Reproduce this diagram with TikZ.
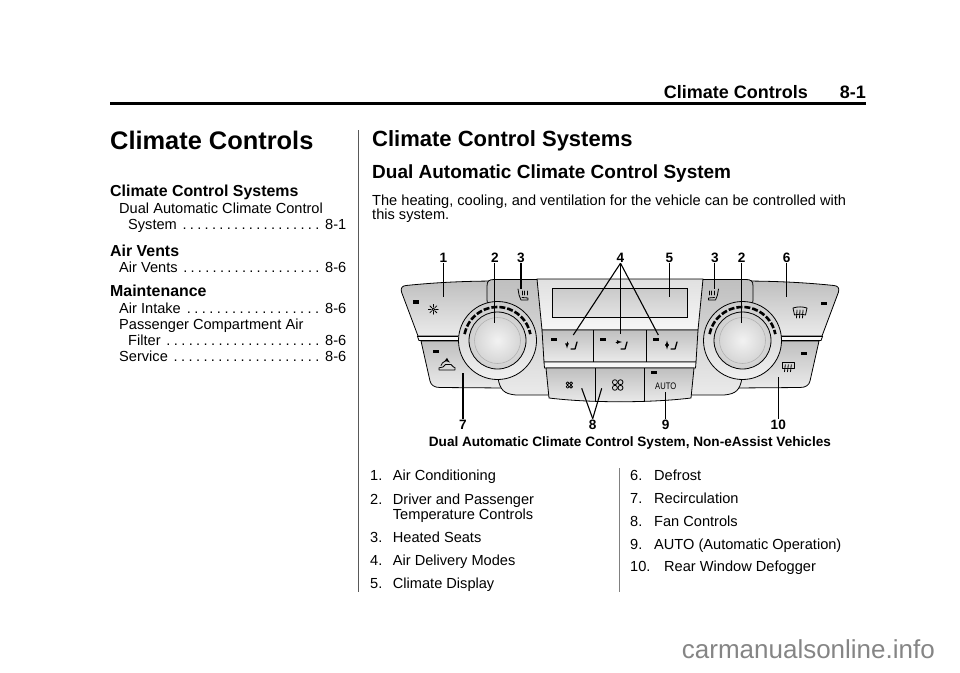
\documentclass[tikz,border=0pt]{standalone}
\usepackage{fontspec}
\setmainfont{Liberation Sans}
\newcommand\fsz[1]{\fontsize{#1}{#1}\selectfont}
\newcommand\tocdots{\xleaders\hbox to 0.5em{\hss.\hss}\hfill}
\begin{document}
\begin{tikzpicture}[>=latex,x=1pt,y=-1pt,
    txt/.style={anchor=base west,inner sep=0pt,font=\fsz{14.6}},
    sec/.style={anchor=base west,inner sep=0pt,font=\fsz{15.9}\bfseries},
    num/.style={anchor=base,inner sep=1pt,font=\fsz{13.6}\bfseries},
    lead/.style={line width=1.1pt},
    pc/.style={draw=black,line width=0.8pt,top color=gray!50,bottom color=gray!16},
    knb/.style={draw=black,line width=0.8pt,top color=gray!40,bottom color=gray!12},
    face/.style={draw=black,line width=0.8pt,inner color=gray!10,outer color=gray!38},
    tks/.style={line width=2.6pt,dash pattern=on 6pt off 2pt},
    led/.style={fill=black},
    icon/.style={line width=0.8pt,line cap=round,line join=round},
    mico/.style={line width=1.3pt,line cap=round,line join=round}]
    \useasboundingbox (0,0) rectangle (960,672);
    % header
    \node[anchor=base east,inner sep=0pt,font=\fsz{18}\bfseries] (hdr) at (808,98) {Climate Controls};
    \node[anchor=base east,inner sep=0pt,font=\fsz{18}\bfseries] (pg) at (866,98) {8-1};
    \draw[line width=3pt] (110,103) -- (866,103);
    \draw[black!65,line width=1pt] (358,130) -- (358,592);
    % left column
    \node[anchor=base west,inner sep=0pt,font=\fsz{25.4}\bfseries] (ch) at (110,149.3) {Climate Controls};
    \node[sec] (s1) at (110,196.7) {Climate Control Systems};
    \node[txt] (s1a) at (119,213.3) {Dual Automatic Climate Control};
    \node[txt] (s1b) at (128,229.3) {\hbox to 218pt{System \tocdots\ 8-1}};
    \node[sec] (s2) at (110,256.7) {Air Vents};
    \node[txt] (s2a) at (119,272.7) {\hbox to 227pt{Air Vents \tocdots\ 8-6}};
    \node[sec] (s3) at (110,296.7) {Maintenance};
    \node[txt] (s3a) at (119,313.3) {\hbox to 227pt{Air Intake \tocdots\ 8-6}};
    \node[txt] (s3b) at (119,329.3) {Passenger Compartment Air};
    \node[txt] (s3c) at (128,345.7) {\hbox to 218pt{Filter \tocdots\ 8-6}};
    \node[txt] (s3d) at (119,361.7) {\hbox to 227pt{Service \tocdots\ 8-6}};
    % right column
    \node[anchor=base west,inner sep=0pt,font=\fsz{22}\bfseries] (ccs) at (372,146.7) {Climate Control Systems};
    \node[anchor=base west,inner sep=0pt,font=\fsz{19}\bfseries] (dac) at (372,178.3) {Dual Automatic Climate Control System};
    \node[txt] (b1) at (372,205) {The heating, cooling, and ventilation for the vehicle can be controlled with};
    \node[txt] (b2) at (372,219.3) {this system.};
    % panel, left pieces and their mirror
    \path[pc] (418,336) -- (401.5,292) .. controls (400.5,288) and (402,286) .. (406,285.5) .. controls (440,282) and (470,281) .. (500,281) -- (500,336) -- cycle;
    \path[pc] (421,341) -- (430,381) .. controls (431,385) and (434,387.5) .. (440,387.5) -- (505,388) -- (505,341) -- cycle;
    \path[draw,line width=0.8pt,fill=gray!5] (417.5,336.5) -- (470,336.5) -- (470,340.5) -- (419,340.5) -- cycle;
    \begin{scope}[shift={(1240,0)},xscale=-1]
        \path[pc] (418,336) -- (401.5,292) .. controls (400.5,288) and (402,286) .. (406,285.5) .. controls (440,282) and (470,281) .. (500,281) -- (500,336) -- cycle;
        \path[pc] (421,341) -- (430,381) .. controls (431,385) and (434,387.5) .. (440,387.5) -- (505,388) -- (505,341) -- cycle;
        \path[draw,line width=0.8pt,fill=gray!5] (417.5,336.5) -- (470,336.5) -- (470,340.5) -- (419,340.5) -- cycle;
    \end{scope}
    % body, display and buttons
    \path[pc] (498,378) .. controls (500,390) and (504,394) .. (516,395) -- (724,395) .. controls (736,394) and (740,390) .. (742,378) -- (753,300) -- (753,286) .. controls (753,281) and (751,279.5) .. (746,279.5) -- (494,279.5) .. controls (489,279.5) and (487,281) .. (487,286) -- (487,300) -- cycle;
    \path[draw,line width=0.8pt,top color=gray!24,bottom color=gray!7] (537,279) -- (703,279) -- (698,330) -- (542,330) -- cycle;
    \path[draw,line width=0.8pt,top color=gray!42,bottom color=gray!22] (552.5,288) rectangle (687.5,317);
    \path[pc] (542,330) -- (698,330) -- (696,362) -- (544,362) -- cycle;
    \draw[line width=0.8pt] (593.5,330) -- (593.5,362) (646.5,330) -- (646.5,362);
    \path[draw,line width=0.8pt,fill=gray!6] (544,362) -- (696,362) -- (695.5,368) -- (544.5,368) -- cycle;
    \path[pc] (546,368) -- (694,368) -- (691,398) .. controls (650,403) and (590,403) .. (549,398) -- cycle;
    \draw[line width=0.8pt] (595.5,368) -- (595.5,401.5) (644.5,368) -- (644.5,401.5);
    % knobs
    \path[knb] (497.5,340.5) circle[radius=39];
    \draw[tks] (497.5,340.5) ++(-169:33.5) arc[start angle=-169,end angle=-11,radius=33.5];
    \path[face] (497.5,340.5) circle[radius=28.5];
    \draw[gray!60,line width=0.6pt] (497.5,340.5) circle[radius=23];
    \path[knb] (742.5,340.5) circle[radius=39];
    \draw[tks] (742.5,340.5) ++(-169:33.5) arc[start angle=-169,end angle=-11,radius=33.5];
    \path[face] (742.5,340.5) circle[radius=28.5];
    \draw[gray!60,line width=0.6pt] (742.5,340.5) circle[radius=23];
    % indicator lamps
    \path[led] (413,300) rectangle (419,303.5);
    \path[led] (432.5,349.5) rectangle (438.5,353);
    \path[led] (820.5,301.5) rectangle (826.5,305);
    \path[led] (800.5,351.5) rectangle (806.5,355);
    \path[led] (550.5,337.5) rectangle (556.5,341);
    \path[led] (600,337.5) rectangle (606,341);
    \path[led] (653,337.5) rectangle (659,341);
    \path[led] (651,370.5) rectangle (657,374);
    % icons
    \draw[icon] (433.3,309.3) circle[radius=1.4];
    \foreach \a in {0,45,...,315}
        \draw[icon] (433.3,309.3) ++(\a:2.3) -- ++(\a:2.6);
    \begin{scope}[shift={(447,367)}]
        \draw[icon] (-8,3) -- (-8,0.8) -- (-4,0) -- (-1.5,-2.5) -- (4,-2.5) -- (6.5,0) -- (8,0.6) -- (8,3) -- cycle;
        \draw[icon,->] (-6,-1.5) .. controls (-5,-6) and (1,-6) .. (3,-4.5);
    \end{scope}
    \begin{scope}[shift={(523,295)}]
        \draw[icon] (-5,-6) .. controls (-4,-1) and (-4,2) .. (-2,5) -- (5,5) -- (5,3) -- (-1,2.5);
        \draw[icon] (-0.5,-4) -- (-0.5,0) (1.8,-4) -- (1.8,0) (4.1,-4) -- (4.1,0);
    \end{scope}
    \begin{scope}[shift={(713.5,295)},xscale=-1]
        \draw[icon] (-5,-6) .. controls (-4,-1) and (-4,2) .. (-2,5) -- (5,5) -- (5,3) -- (-1,2.5);
        \draw[icon] (-0.5,-4) -- (-0.5,0) (1.8,-4) -- (1.8,0) (4.1,-4) -- (4.1,0);
    \end{scope}
    \begin{scope}[shift={(800,312)}]
        \draw[icon] (-7,-4) .. controls (-2,-5.5) and (2,-5.5) .. (7,-4) -- (5.5,3) .. controls (2,2) and (-2,2) .. (-5.5,3) -- cycle;
        \draw[icon] (-3,-2) -- (-3.5,6) (0,-2) -- (-0.5,6) (3,-2) -- (2.5,6);
    \end{scope}
    \begin{scope}[shift={(788.3,366.7)}]
        \draw[icon] (-6,-4) rectangle (6,2);
        \draw[icon] (-3,-2) -- (-3.8,5) (0,-2) -- (-0.8,5) (3,-2) -- (2.2,5);
    \end{scope}
    \begin{scope}[shift={(571,345)}]
        \draw[mico] (0,4) -- (4,4) -- (6,-3);
        \draw[icon,->] (-4,-3) -- (-4,3.5);
    \end{scope}
    \begin{scope}[shift={(621,345)}]
        \draw[mico] (0,4) -- (4,4) -- (6,-3);
        \draw[icon,->] (-5,-3) -- (1,-3);
    \end{scope}
    \begin{scope}[shift={(671,345)}]
        \draw[mico] (0,4) -- (4,4) -- (6,-3);
        \draw[icon,->] (-4,-0.5) -- (-4,-4.5);
        \draw[icon,->] (-4,0.5) -- (-4,4.5);
    \end{scope}
    \foreach \u/\v in {1/1,1/-1,-1/1,-1/-1}
        \draw[icon] ({569.3+1.7*\u},{385+1.7*\v}) circle[radius=1.5];
    \foreach \u/\v in {1/1,1/-1,-1/1,-1/-1}
        \draw[icon] ({617.7+2.8*\u},{385+2.8*\v}) circle[radius=2.5];
    \node[inner sep=0pt,font=\fsz{9.5}] (auto) at (665.7,386) {\scalebox{0.8}[1]{AUTO}};
    % callouts
    \node[num] (l1) at (443.3,262) {1};
    \node[num] (l2) at (494.8,262) {2};
    \node[num] (l3) at (521,262) {3};
    \node[num] (l4) at (620.5,262) {4};
    \node[num] (l5) at (669.3,262) {5};
    \node[num] (l3r) at (714.8,262) {3};
    \node[num] (l2r) at (741.7,262) {2};
    \node[num] (l6) at (786.7,262) {6};
    \node[num] (l7) at (463,429.3) {7};
    \node[num] (l8) at (592.7,429.3) {8};
    \node[num] (l9) at (665.7,429.3) {9};
    \node[num] (l10) at (778.3,429.3) {10};
    \coordinate (p1) at (443.3,297);
    \coordinate (p2) at (494.8,323);
    \coordinate (p3) at (521,288.5);
    \coordinate (m1) at (573.3,335);
    \coordinate (m2) at (620.5,333.5);
    \coordinate (m3) at (658.3,335);
    \coordinate (p5) at (669.3,296.7);
    \coordinate (p3r) at (714.8,288.5);
    \coordinate (p2r) at (741.7,323);
    \coordinate (p6) at (786.7,296.7);
    \coordinate (p7) at (463,373);
    \coordinate (f1) at (581.7,388.3);
    \coordinate (f2) at (601.7,388.3);
    \coordinate (p9) at (665.7,392);
    \coordinate (p10) at (778.3,376.7);
    \draw[lead] (l1.south) -- (p1);
    \draw[lead] (l2.south) -- (p2);
    \draw[lead] (l3.south) -- (p3);
    \draw[lead] (l4.south) -- (m1);
    \draw[lead] (l4.south) -- (m2);
    \draw[lead] (l4.south) -- (m3);
    \draw[lead] (l5.south) -- (p5);
    \draw[lead] (l3r.south) -- (p3r);
    \draw[lead] (l2r.south) -- (p2r);
    \draw[lead] (l6.south) -- (p6);
    \draw[lead] (l7.north) -- (p7);
    \draw[lead] (l8.north) -- (f1);
    \draw[lead] (l8.north) -- (f2);
    \draw[lead] (l9.north) -- (p9);
    \draw[lead] (l10.north) -- (p10);
    \node[anchor=base,inner sep=0pt,font=\fsz{13.6}\bfseries] (capt) at (629.9,446) {Dual Automatic Climate Control System, Non-eAssist Vehicles};
    % legend
    \draw[black!50,line width=0.9pt] (619.3,468) -- (619.3,592);
    \node[txt] (k1) at (370,480.7) {\makebox[22.7pt][l]{1.}Air Conditioning};
    \node[txt] (k2) at (370,504) {\makebox[22.7pt][l]{2.}Driver and Passenger};
    \node[txt] (k2b) at (392.7,519.3) {Temperature Controls};
    \node[txt] (k3) at (370,542.7) {\makebox[22.7pt][l]{3.}Heated Seats};
    \node[txt] (k4) at (370,565) {\makebox[22.7pt][l]{4.}Air Delivery Modes};
    \node[txt] (k5) at (370,588.3) {\makebox[22.7pt][l]{5.}Climate Display};
    \node[txt] (k6) at (630,480.7) {\makebox[24pt][l]{6.}Defrost};
    \node[txt] (k7) at (630,503.3) {\makebox[24pt][l]{7.}Recirculation};
    \node[txt] (k8) at (630,526) {\makebox[24pt][l]{8.}Fan Controls};
    \node[txt] (k9) at (630,549.3) {\makebox[24pt][l]{9.}AUTO (Automatic Operation)};
    \node[txt] (k10) at (630,571.7) {\makebox[34pt][l]{10.}Rear Window Defogger};
    \node[anchor=base west,inner sep=0pt,font=\fsz{26},text=black!48] (wm) at (681.7,658) {carmanualsonline.info};
\end{tikzpicture}
\end{document}
